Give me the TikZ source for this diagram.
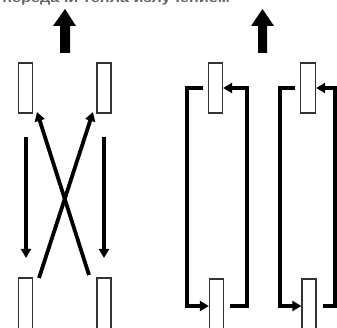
\documentclass[tikz,border=0pt]{standalone}
\usepackage{fontspec}
\setmainfont{Liberation Sans}
\usetikzlibrary{arrows.meta}
\begin{document}
\begin{tikzpicture}[x=1pt,y=-1pt,
  plate/.style={draw=black!80,line width=1.3pt,fill=white},
  flow/.style={line width=3.8pt,-{Triangle[length=9pt,width=10pt]}},
  bigarrow/.style={fill=black}]
\useasboundingbox (0,0) rectangle (337,328);
% clipped caption line at the top
\begin{scope}
\clip (0,0) rectangle (337,5);
\node[anchor=base west,inner sep=0pt,font=\bfseries\fontsize{13}{13}\selectfont,xscale=1.25,text=black!60] (cap) at (2,2.5) {передачи тепла излучением};
\end{scope}
% big up arrows
\fill[bigarrow] (60,53) -- (60,26) -- (53,26) -- (65,9) -- (76,26) -- (70,26) -- (70,53) -- cycle;
\fill[bigarrow] (258,53) -- (258,26) -- (251,26) -- (262.5,9) -- (274,26) -- (267,26) -- (267,53) -- cycle;
% left panel plates
\node[plate,minimum width=14pt,minimum height=50pt,inner sep=0pt] (LT1) at (25.5,88) {};
\node[plate,minimum width=14pt,minimum height=50pt,inner sep=0pt] (LT2) at (104,88) {};
\node[plate,minimum width=14pt,minimum height=60pt,inner sep=0pt] (LB1) at (25.5,308) {};
\node[plate,minimum width=14pt,minimum height=60pt,inner sep=0pt] (LB2) at (104,308) {};
% left panel connectors
\coordinate (v1s) at (26,137); \coordinate (v1e) at (26,258);
\coordinate (v2s) at (104,137); \coordinate (v2e) at (104,258);
\draw[flow] (v1s) -- (v1e);
\draw[flow] (v2s) -- (v2e);
\coordinate (d1s) at (39,278); \coordinate (d1e) at (93,112);
\coordinate (d2s) at (89,275); \coordinate (d2e) at (37,112);
\draw[flow] (d1s) -- (d1e);
\draw[flow] (d2s) -- (d2e);
% right panel plates
\node[plate,minimum width=14pt,minimum height=50pt,inner sep=0pt] (RT1) at (215.5,88) {};
\node[plate,minimum width=15pt,minimum height=50pt,inner sep=0pt] (RT2) at (308,88) {};
\node[plate,minimum width=14pt,minimum height=60pt,inner sep=0pt] (RB1) at (216.5,309) {};
\node[plate,minimum width=14pt,minimum height=60pt,inner sep=0pt] (RB2) at (309,309) {};
% right panel connectors
\draw[flow] (203,88) -- (187,88) -- (187,306) -- (RB1.west |- 0,306);
\draw[flow] (230,306) -- (247,306) -- (247,88) -- (RT1.east |- 0,88);
\draw[flow] (295,88) -- (280,88) -- (280,306) -- (RB2.west |- 0,306);
\draw[flow] (323,306) -- (335,306) -- (335,88) -- (RT2.east |- 0,88);
\end{tikzpicture}
\end{document}
